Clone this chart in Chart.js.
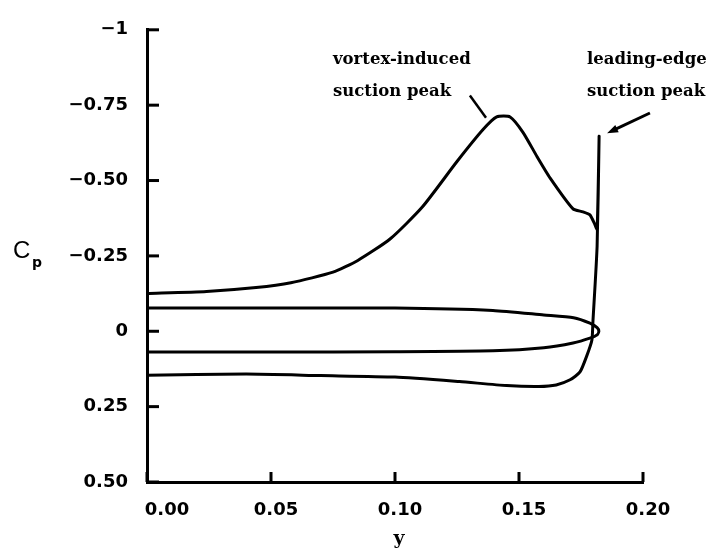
<!DOCTYPE html>
<html>
<head>
<meta charset="utf-8">
<script src="https://cdn.jsdelivr.net/npm/chart.js@4.4.1/dist/chart.umd.min.js"></script>
<style>
  html, body { margin: 0; padding: 0; background: #fff; }
  #cpChart { display: block; }
</style>
</head>
<body>
<canvas id="cpChart" width="716" height="551"></canvas>
<script>
// axis ticks
const cpTickValues = [-1, -0.75, -0.5, -0.25, 0, 0.25, 0.5];
const cpTickLabels = ['\u22121', '\u22120.75', '\u22120.50', '\u22120.25', '0', '0.25', '0.50'];
const spanTickValues = [0, 0.05, 0.10, 0.15, 0.20];
const spanTickLabels = ['0.00', '0.05', '0.10', '0.15', '0.20'];

// pressure distribution: lower surface out to the leading edge, up the LE spike, back along the upper surface
const cpSpan = [
  0, 0.040, 0.070, 0.100, 0.126, 0.145, 0.158, 0.165, 0.1706, 0.1746, 0.1774, 0.1794, 0.1798, 0.1815, 0.1823,
  0.1815, 0.1806, 0.1786, 0.1758, 0.1718, 0.1625, 0.1573, 0.1516, 0.1464, 0.141, 0.1355, 0.125,
  0.111, 0.098, 0.085, 0.075, 0.058, 0.044, 0.024, 0
];
const cpValues = [
  0.146, 0.142, 0.147, 0.152, 0.167, 0.180, 0.183, 0.178, 0.161, 0.135, 0.080, 0.029, -0.030, -0.283, -0.647,
  -0.338, -0.354, -0.386, -0.396, -0.406, -0.509, -0.579, -0.660, -0.711, -0.711, -0.669, -0.563,
  -0.412, -0.306, -0.235, -0.196, -0.161, -0.145, -0.132, -0.125
];

// closed loop crossing near the leading edge
const loopSpan = [0, 0.05, 0.10, 0.1395, 0.160, 0.172, 0.1786, 0.1815, 0.1822, 0.1815, 0.1786, 0.1718, 0.160, 0.1395, 0.10, 0.05, 0];
const loopValues = [-0.077, -0.077, -0.077, -0.069, -0.054, -0.045, -0.027, -0.012, 0, 0.012, 0.023, 0.039, 0.055, 0.065, 0.068, 0.069, 0.069];

// annotations (data coordinates)
const vortexLabel = ['vortex-induced', 'suction peak'];
const leLabel = ['leading-edge', 'suction peak'];
const vortexLeader = [[0.1302, -0.782], [0.1367, -0.708]];
const leArrow = [[0.2028, -0.724], [0.1855, -0.657]];

const toPoints = (xs, ys) => xs.map((x, i) => ({ x: x, y: ys[i] }));

const decorPlugin = {
  id: 'decor',
  afterDraw(chart) {
    const ctx = chart.ctx;
    const xs = chart.scales.x;
    const ys = chart.scales.y;
    const area = chart.chartArea;
    ctx.save();
    ctx.strokeStyle = '#000';
    ctx.fillStyle = '#000';
    ctx.lineWidth = 3;
    ctx.lineCap = 'butt';

    // inward tick marks
    cpTickValues.forEach(v => {
      const py = ys.getPixelForValue(v);
      ctx.beginPath();
      ctx.moveTo(area.left, py);
      ctx.lineTo(area.left + 12, py);
      ctx.stroke();
    });
    spanTickValues.forEach(v => {
      const px = xs.getPixelForValue(v);
      ctx.beginPath();
      ctx.moveTo(px, area.bottom);
      ctx.lineTo(px, area.bottom - 10);
      ctx.stroke();
    });

    // x tick labels (first one nudged off the y axis like the original)
    ctx.font = 'bold 18px "DejaVu Sans"';
    ctx.textAlign = 'center';
    ctx.textBaseline = 'top';
    spanTickValues.forEach((v, i) => {
      const shift = i === 0 ? 20 : 5;
      ctx.fillText(spanTickLabels[i], xs.getPixelForValue(v) + shift, area.bottom + 19);
    });

    // axis titles
    ctx.textAlign = 'left';
    ctx.textBaseline = 'alphabetic';
    ctx.font = '24px "Liberation Sans"';
    ctx.fillText('C', 13, 258);
    ctx.font = 'bold 14px "DejaVu Sans"';
    ctx.fillText('p', 32, 267);
    ctx.textAlign = 'center';
    ctx.font = 'bold 19px "DejaVu Serif"';
    ctx.fillText('y', 399, 544);

    // annotation text
    ctx.textAlign = 'left';
    ctx.font = 'bold 16.5px "DejaVu Serif"';
    const vx = xs.getPixelForValue(0.075);
    const lx = xs.getPixelForValue(0.1774);
    const b1 = ys.getPixelForValue(-0.888);
    const b2 = ys.getPixelForValue(-0.779);
    ctx.fillText(vortexLabel[0], vx, b1);
    ctx.fillText(vortexLabel[1], vx, b2);
    ctx.fillText(leLabel[0], lx, b1);
    ctx.fillText(leLabel[1], lx, b2);

    // leader line
    ctx.lineWidth = 2.5;
    ctx.beginPath();
    ctx.moveTo(xs.getPixelForValue(vortexLeader[0][0]), ys.getPixelForValue(vortexLeader[0][1]));
    ctx.lineTo(xs.getPixelForValue(vortexLeader[1][0]), ys.getPixelForValue(vortexLeader[1][1]));
    ctx.stroke();

    // arrow to leading-edge peak
    const ax0 = xs.getPixelForValue(leArrow[0][0]), ay0 = ys.getPixelForValue(leArrow[0][1]);
    const ax1 = xs.getPixelForValue(leArrow[1][0]), ay1 = ys.getPixelForValue(leArrow[1][1]);
    const ang = Math.atan2(ay1 - ay0, ax1 - ax0);
    ctx.lineWidth = 3;
    ctx.beginPath();
    ctx.moveTo(ax0, ay0);
    ctx.lineTo(ax1 - 6 * Math.cos(ang), ay1 - 6 * Math.sin(ang));
    ctx.stroke();
    ctx.beginPath();
    ctx.moveTo(ax1, ay1);
    ctx.lineTo(ax1 - 11 * Math.cos(ang) + 4 * Math.sin(ang), ay1 - 11 * Math.sin(ang) - 4 * Math.cos(ang));
    ctx.lineTo(ax1 - 11 * Math.cos(ang) - 4 * Math.sin(ang), ay1 - 11 * Math.sin(ang) + 4 * Math.cos(ang));
    ctx.closePath();
    ctx.fill();
    ctx.restore();
  }
};

const config = {
  type: 'scatter',
  data: {
    datasets: [
      { data: toPoints(cpSpan, cpValues), showLine: true },
      { data: toPoints(loopSpan, loopValues), showLine: true }
    ]
  },
  options: {
    responsive: false,
    animation: false,
    layout: { padding: { top: 16, right: 73, left: 0, bottom: 0 } },
    elements: {
      point: { radius: 0, hoverRadius: 0 },
      line: { borderColor: '#000', borderWidth: 3, tension: 0.2, fill: false }
    },
    plugins: {
      legend: { display: false },
      tooltip: { enabled: false }
    },
    scales: {
      x: {
        type: 'linear',
        min: 0,
        max: 0.2,
        grid: { display: true, drawOnChartArea: false, drawTicks: false },
        border: { display: true, color: '#000', width: 3 },
        ticks: { display: false },
        afterFit: s => { s.height = 69; }
      },
      y: {
        type: 'linear',
        reverse: true,
        min: -1,
        max: 0.5,
        afterBuildTicks: s => { s.ticks = cpTickValues.map(v => ({ value: v })); },
        grid: { display: true, drawOnChartArea: false, drawTicks: false },
        border: { display: true, color: '#000', width: 3 },
        ticks: {
          color: '#000',
          padding: 19,
          font: { family: 'DejaVu Sans', weight: 'bold', size: 18 },
          callback: v => cpTickLabels[cpTickValues.indexOf(v)]
        },
        afterFit: s => { s.width = 147; }
      }
    }
  },
  plugins: [decorPlugin]
};

const cpChart = new Chart(document.getElementById('cpChart'), config);
</script>
</body>
</html>
